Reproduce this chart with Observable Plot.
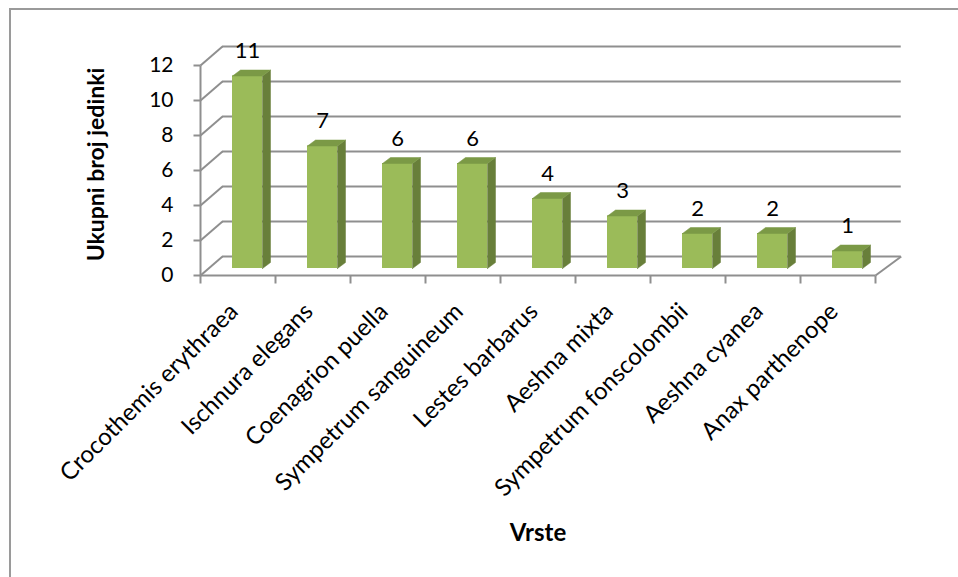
<!DOCTYPE html>
<html>
<head>
<meta charset="utf-8">
<script src="https://cdn.jsdelivr.net/npm/d3@7"></script>
<script src="https://cdn.jsdelivr.net/npm/@observablehq/plot@0.6"></script>
<style>
  html, body { margin: 0; padding: 0; background: #fff; }
  #wrap { position: relative; width: 958px; height: 577px; overflow: hidden; }
  #border { position: absolute; left: 9px; top: 8px; width: 1200px; height: 1200px; border-left: 2px solid #9a9a9a; border-top: 2px solid #9a9a9a; }
  #chart { position: absolute; left: 0; top: 0; }
</style>
</head>
<body>
<div id="wrap"><div id="border"></div><div id="chart"></div></div>
<script>
// ---- data ----
const species = ["Crocothemis erythraea", "Ischnura elegans", "Coenagrion puella", "Sympetrum sanguineum", "Lestes barbarus", "Aeshna mixta", "Sympetrum fonscolombii", "Aeshna cyanea", "Anax parthenope"];
const counts = [11, 7, 6, 6, 4, 3, 2, 2, 1];
const yTicks = [0, 2, 4, 6, 8, 10, 12];
const yTitle = "Ukupni broj jedinki";
const xTitle = "Vrste";

// ---- layout / style constants ----
const W = 958, H = 577;
const mL = 200, mR = 83, mT = 65, mB = 302;
const N = species.length;
const pxX = (W - mL - mR) / N;              // px per category unit
const pxY = (H - mT - mB) / 12;             // px per value unit
const wallX = 22 / pxX, wallY = 19 / pxY;   // back wall depth offset (in scale units)
const barL = 32 / pxX, barR = 62 / pxX;     // front face position within a band
const barBase = 7 / pxY;                    // bar front face sits above the floor's front edge
const depX = 8 / pxX, depY = 6 / pxY;       // bar depth
const tickX = 7 / pxX, tickY = 8 / pxY;     // tick mark lengths
const grid = "#8f8f8f";
const font = "Lato, 'Open Sans', sans-serif";

const rows = species.map((name, i) => ({i, name, value: counts[i]}));

// polygons for bar faces
const sidePts = [], topPts = [];
rows.forEach(d => {
  const L = d.i + barL, R = d.i + barR, b = barBase, t = d.value + barBase;
  sidePts.push({k: d.i, x: R, y: b}, {k: d.i, x: R + depX, y: b + depY}, {k: d.i, x: R + depX, y: t + depY}, {k: d.i, x: R, y: t}, {k: d.i, x: R, y: b});
  topPts.push({k: d.i, x: L, y: t}, {k: d.i, x: R, y: t}, {k: d.i, x: R + depX, y: t + depY}, {k: d.i, x: L + depX, y: t + depY}, {k: d.i, x: L, y: t});
});

const xEdges = d3.range(N + 1);

const chart = Plot.plot({
  width: W, height: H,
  marginLeft: mL, marginRight: mR, marginTop: mT, marginBottom: mB,
  x: {type: "linear", domain: [0, N], axis: null},
  y: {type: "linear", domain: [0, 12], axis: null},
  style: {fontFamily: font, background: "transparent", overflow: "visible"},
  marks: [
    // back wall gridlines
    Plot.ruleY(yTicks, {x1: () => wallX, x2: () => N + wallX + 0.05, y: d => d + wallY, stroke: grid, strokeWidth: 2}),
    // left wall diagonals
    Plot.link(yTicks, {x1: () => 0, y1: d => d, x2: () => wallX, y2: d => d + wallY, stroke: grid, strokeWidth: 2}),
    // floor right edge
    Plot.link([N], {x1: d => d, y1: () => 0, x2: d => d + wallX + 0.05, y2: () => wallY, stroke: grid, strokeWidth: 2}),
    // front vertical axis
    Plot.link([0], {x1: d => d, x2: d => d, y1: () => 0, y2: () => 12, stroke: grid, strokeWidth: 2}),
    // front floor edge
    Plot.link([0], {x1: d => d, x2: () => N, y1: () => 0, y2: () => 0, stroke: grid, strokeWidth: 2}),
    // y tick marks
    Plot.link(yTicks, {x1: () => -tickX, x2: () => 0, y1: d => d, y2: d => d, stroke: grid, strokeWidth: 2}),
    // x tick marks at band edges
    Plot.link(xEdges, {x1: d => d, x2: d => d, y1: () => 0, y2: () => -tickY, stroke: grid, strokeWidth: 2}),
    // bars: front face
    Plot.rect(rows, {x1: d => d.i + barL, x2: d => d.i + barR, y1: () => barBase, y2: d => d.value + barBase, fill: "#9bbb59"}),
    // side face
    Plot.line(sidePts, {x: "x", y: "y", z: "k", fill: "#687f3a", stroke: "#687f3a", strokeWidth: 0.5}),
    // top face
    Plot.line(topPts, {x: "x", y: "y", z: "k", fill: "#7b9946", stroke: "#7b9946", strokeWidth: 0.5}),
    // value labels
    Plot.text(rows, {x: d => d.i + (barL + barR) / 2, y: d => d.value + barBase, text: d => String(d.value), dy: -25, fontSize: 22, fill: "#000"}),
    // y tick labels
    Plot.text(yTicks, {x: () => 0, y: d => d, text: d => String(d), dx: -27, textAnchor: "end", fontSize: 21, fill: "#000"}),
    // category labels
    Plot.text(rows, {x: d => d.i + 0.5, y: () => 0, text: "name", rotate: -45, textAnchor: "end", dx: -4, dy: 32, fontSize: 24, fill: "#000"}),
    // axis titles
    Plot.text([yTitle], {frameAnchor: "left", text: d => d, rotate: -90, textAnchor: "middle", dx: -104, dy: -6, fontSize: 23, fontWeight: "bold", fill: "#000"}),
    Plot.text([xTitle], {frameAnchor: "bottom", text: d => d, dy: 265, fontSize: 24, fontWeight: "bold", fill: "#000"})
  ]
});
document.getElementById("chart").appendChild(chart);
</script>
</body>
</html>
